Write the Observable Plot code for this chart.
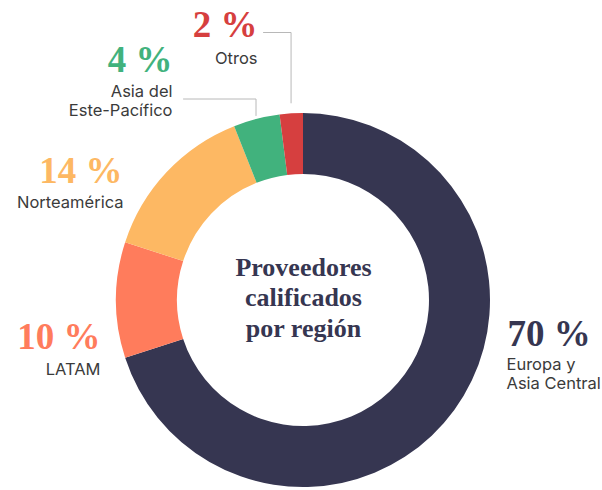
<!DOCTYPE html>
<html>
<head>
<meta charset="utf-8">
<script src="https://cdn.jsdelivr.net/npm/d3@7"></script>
<script src="https://cdn.jsdelivr.net/npm/@observablehq/plot@0.6"></script>
<style>
  html, body { margin: 0; padding: 0; background: #ffffff; }
  #chart svg { display: block; }
</style>
</head>
<body>
<div id="chart"></div>
<script>
// ---- data ----
const regions = ["Europa y\nAsia Central", "LATAM", "Norteamérica", "Asia del\nEste-Pacífico", "Otros"];
const shares = [70, 10, 14, 4, 2];
const shareLabels = ["70 %", "10 %", "14 %", "4 %", "2 %"];
const colors = ["#363651", "#FF7C5C", "#FDB863", "#41B27D", "#D63F3F"];
const centerTitle = "Proveedores\ncalificados\npor región";

// ---- layout ----
const W = 602, H = 490;
const CX = 303, CY = 300, R_OUT = 187, R_IN = 126;
const pctPos = [
  {x: 507, y: 345, anchor: "start"},
  {x: 100, y: 348, anchor: "end"},
  {x: 122, y: 182, anchor: "end"},
  {x: 172, y: 71,  anchor: "end"},
  {x: 257, y: 36,  anchor: "end"}
];
const namePos = [
  {x: 506, y: 388, anchor: "start"},
  {x: 100, y: 374, anchor: "end"},
  {x: 123, y: 207, anchor: "end"},
  {x: 172, y: 115, anchor: "end"},
  {x: 257, y: 63,  anchor: "end"}
];
// leader lines: index of slice, gap from ring, elbow y, end x
const leaders = [
  {i: 3, gap: 4,  y: 98.5, x: 183},
  {i: 4, gap: 11, y: 32,   x: 263}
];

const table = regions.map((r, i) => ({region: r, share: shares[i], label: shareLabels[i], i}));
const arcs = d3.pie().sort(null).value(d => d.share)(table);

const leaderPts = leaders.flatMap(L => {
  const a = arcs[L.i];
  const mid = (a.startAngle + a.endAngle) / 2;
  const r = R_OUT + L.gap;
  const sx = CX + r * Math.sin(mid);
  const sy = CY - r * Math.cos(mid);
  return [
    {k: L.i, x: sx, y: sy},
    {k: L.i, x: sx, y: L.y},
    {k: L.i, x: L.x, y: L.y}
  ];
});

function donut(index, scales, values, dimensions, context) {
  const k = Math.abs(scales.x(1) - scales.x(0));
  const colorOf = scales.color ? scales.color : (r => colors[regions.indexOf(r)]);
  const arcGen = d3.arc().innerRadius(R_IN * k).outerRadius(R_OUT * k);
  const g = d3.create("svg:g")
    .attr("transform", `translate(${scales.x(CX)},${scales.y(CY)})`);
  g.selectAll("path").data(arcs).join("path")
    .attr("d", arcGen)
    .attr("fill", d => colorOf(d.data.region));
  return g.node();
}

const serif = "'Liberation Serif', 'Times New Roman', serif";
const sans = "Inter, 'Liberation Sans', sans-serif";

function pctMarks(anchor) {
  return Plot.text(table.filter(d => pctPos[d.i].anchor === anchor), {
    x: d => pctPos[d.i].x, y: d => pctPos[d.i].y,
    textAnchor: anchor,
    text: "label", fill: "region",
    fontFamily: serif, fontWeight: "bold", fontSize: 37,
    lineAnchor: "bottom"
  });
}
function nameMarks(anchor) {
  return Plot.text(table.filter(d => namePos[d.i].anchor === anchor), {
    x: d => namePos[d.i].x, y: d => namePos[d.i].y,
    textAnchor: anchor,
    text: "region", fill: "#3b3b3b",
    fontFamily: sans, fontSize: 16.5, lineHeight: 1.1,
    lineAnchor: "bottom"
  });
}

const chart = Plot.plot({
  width: W,
  height: H,
  margin: 0,
  x: {domain: [0, W], range: [0, W], axis: null},
  y: {domain: [0, H], range: [0, H], axis: null},
  color: {domain: regions, range: colors},
  style: {background: "#ffffff", overflow: "visible"},
  marks: [
    donut,
    Plot.line(leaderPts, {x: "x", y: "y", z: "k", stroke: "#b8b8b8", strokeWidth: 1}),
    pctMarks("start"), pctMarks("end"),
    nameMarks("start"), nameMarks("end"),
    Plot.text([centerTitle], {
      x: () => CX, y: () => 336.5,
      text: d => d, fill: colors[0],
      fontFamily: serif, fontWeight: "bold", fontSize: 26, lineHeight: 1.18,
      lineAnchor: "bottom", textAnchor: "middle"
    })
  ]
});

document.getElementById("chart").appendChild(chart);
</script>
</body>
</html>
